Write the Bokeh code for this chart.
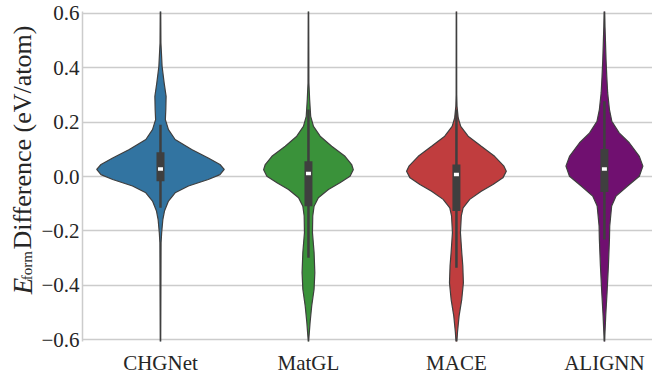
import math
import numpy as np
from bokeh.plotting import figure
from bokeh.layouts import row
from bokeh.models import FixedTicker
from bokeh.core.properties import value
from bokeh.embed import file_html
from bokeh.resources import INLINE

# Models compared, one violin each
models = ["CHGNet", "MatGL", "MACE", "ALIGNN"]
colors = ["#3274a1", "#3a923a", "#c03d3e", "#701070"]

# Violin outlines: formation-energy difference (eV/atom) and kernel-density half width
chgnet_y = [0.62, 0.49, 0.404, 0.343, 0.294, 0.246, 0.209, 0.172, 0.136, 0.099, 0.068, 0.044,
            0.026, 0.007, -0.011, -0.035, -0.06, -0.09, -0.127, -0.158, -0.206, -0.243, -0.62]
chgnet_w = [0.0015, 0.003, 0.011, 0.025, 0.038, 0.036, 0.033, 0.054, 0.099, 0.211, 0.323, 0.402,
            0.431, 0.402, 0.323, 0.189, 0.099, 0.054, 0.027, 0.016, 0.008, 0.004, 0.0015]

matgl_y = [0.62, 0.343, 0.282, 0.221, 0.184, 0.148, 0.111, 0.074, 0.044, 0.025, 0.001, -0.023,
           -0.048, -0.078, -0.109, -0.145, -0.206, -0.279, -0.353, -0.414, -0.475, -0.536, -0.6, -0.62]
matgl_w = [0.0015, 0.003, 0.008, 0.015, 0.034, 0.079, 0.157, 0.247, 0.292, 0.303, 0.281, 0.213,
           0.135, 0.067, 0.038, 0.029, 0.027, 0.038, 0.043, 0.038, 0.022, 0.011, 0.002, 0.0015]

mace_y = [0.62, 0.30, 0.258, 0.215, 0.184, 0.148, 0.111, 0.074, 0.038, 0.019, -0.005, -0.029,
          -0.054, -0.084, -0.115, -0.145, -0.206, -0.279, -0.328, -0.39, -0.451, -0.512, -0.573, -0.62]
mace_w = [0.0015, 0.002, 0.004, 0.012, 0.029, 0.079, 0.168, 0.258, 0.321, 0.337, 0.314, 0.247,
          0.168, 0.09, 0.045, 0.033, 0.027, 0.036, 0.043, 0.047, 0.036, 0.018, 0.007, 0.0015]

alignn_y = [0.62, 0.55, 0.48, 0.43, 0.368, 0.307, 0.246, 0.203, 0.16, 0.124, 0.074, 0.038,
            0.001, -0.035, -0.072, -0.108, -0.182, -0.231, -0.328, -0.425, -0.51, -0.584, -0.62]
alignn_w = [0.0015, 0.004, 0.008, 0.011, 0.016, 0.022, 0.034, 0.05, 0.10, 0.168, 0.236, 0.26,
            0.236, 0.157, 0.079, 0.049, 0.036, 0.034, 0.027, 0.018, 0.009, 0.003, 0.0015]

profiles_y = [chgnet_y, matgl_y, mace_y, alignn_y]
profiles_w = [chgnet_w, matgl_w, mace_w, alignn_w]

# Inner box statistics
whisker_low = [-0.115, -0.298, -0.335, -0.231]
q1 = [-0.017, -0.109, -0.127, -0.057]
median = [0.028, 0.011, 0.007, 0.028]
q3 = [0.089, 0.056, 0.044, 0.101]
whisker_high = [0.19, 0.246, 0.246, 0.276]

y_ticks = [-0.6, -0.4, -0.2, 0.0, 0.2, 0.4, 0.6]
y_tick_labels = ["\u22120.6", "\u22120.4", "\u22120.2", "0.0", "0.2", "0.4", "0.6"]

SERIF = "Liberation Serif"
TEXT = "#262626"
GRID = "#cccccc"
EDGE = "#3f3f3f"
H = 377
LAB_W = 38

p = figure(width=652 - LAB_W, height=H, x_range=(-0.527, 3.325), y_range=(-0.606, 0.606),
           output_backend="svg", toolbar_location=None,
           min_border_left=80 - LAB_W, min_border_right=0, min_border_top=11, min_border_bottom=35)
p.outline_line_color = None
p.background_fill_color = "white"
p.border_fill_color = "white"

# violins
positions = list(range(len(models)))
for i, (ys, ws) in enumerate(zip(profiles_y, profiles_w)):
    ys = np.asarray(ys)
    ws = np.asarray(ws)
    xs = np.concatenate([i + ws, (i - ws)[::-1]])
    yy = np.concatenate([ys, ys[::-1]])
    p.patch(xs, yy, fill_color=colors[i], line_color=EDGE, line_width=1.2)

# box-plot overlay
p.segment(x0=positions, y0=whisker_low, x1=positions, y1=whisker_high,
          line_color=EDGE, line_width=2.5)
p.segment(x0=positions, y0=q1, x1=positions, y1=q3,
          line_color=EDGE, line_width=8, line_cap="butt")
p.rect(x=positions, y=median, width=5, height=3.5, width_units="screen", height_units="screen",
       fill_color="white", line_color=None)

# axes
p.xaxis.ticker = FixedTicker(ticks=positions)
p.xaxis.major_label_overrides = {i: m for i, m in enumerate(models)}
p.xaxis.axis_line_color = None
p.xaxis.major_tick_line_color = None
p.xaxis.major_tick_out = 0
p.xaxis.major_tick_in = 0
p.xaxis.minor_tick_line_color = None
p.xaxis.major_label_text_font = SERIF
p.xaxis.major_label_text_font_size = "21px"
p.xaxis.major_label_text_color = TEXT
p.xaxis.major_label_standoff = 9
p.xgrid.grid_line_color = None

p.yaxis.ticker = FixedTicker(ticks=y_ticks)
p.yaxis.major_label_overrides = dict(zip(y_ticks, y_tick_labels))
p.yaxis.axis_line_color = GRID
p.yaxis.axis_line_width = 1.5
p.yaxis.major_tick_line_color = None
p.yaxis.major_tick_out = 0
p.yaxis.major_tick_in = 0
p.yaxis.minor_tick_line_color = None
p.yaxis.major_label_text_font = SERIF
p.yaxis.major_label_text_font_size = "21px"
p.yaxis.major_label_text_color = TEXT
p.yaxis.major_label_standoff = 3
p.ygrid.grid_line_color = GRID
p.ygrid.grid_line_width = 1.5

# y-axis title panel: italic E with "form" subscript, then the rest, read bottom to top
lab = figure(width=LAB_W, height=H, x_range=(0, LAB_W), y_range=(0, H),
             output_backend="svg", toolbar_location=None,
             min_border_left=0, min_border_right=0, min_border_top=0, min_border_bottom=0)
lab.axis.visible = False
lab.grid.visible = False
lab.outline_line_color = None
lab.border_fill_color = "white"
rot = math.pi / 2
lab.text(x=[22], y=[54], text=["E"], angle=rot, text_font=value(SERIF),
         text_font_style="italic", text_font_size="27px", text_color=TEXT,
         text_baseline="alphabetic", text_align="left")
lab.text(x=[26], y=[70], text=["form"], angle=rot, text_font=value(SERIF),
         text_font_size="15px", text_color=TEXT,
         text_baseline="alphabetic", text_align="left")
lab.text(x=[22], y=[105], text=["Difference (eV/atom)"], angle=rot, text_font=value(SERIF),
         text_font_size="26px", text_color=TEXT,
         text_baseline="alphabetic", text_align="left")

layout = row(lab, p)
open("out.html", "w").write(file_html(layout, INLINE))
